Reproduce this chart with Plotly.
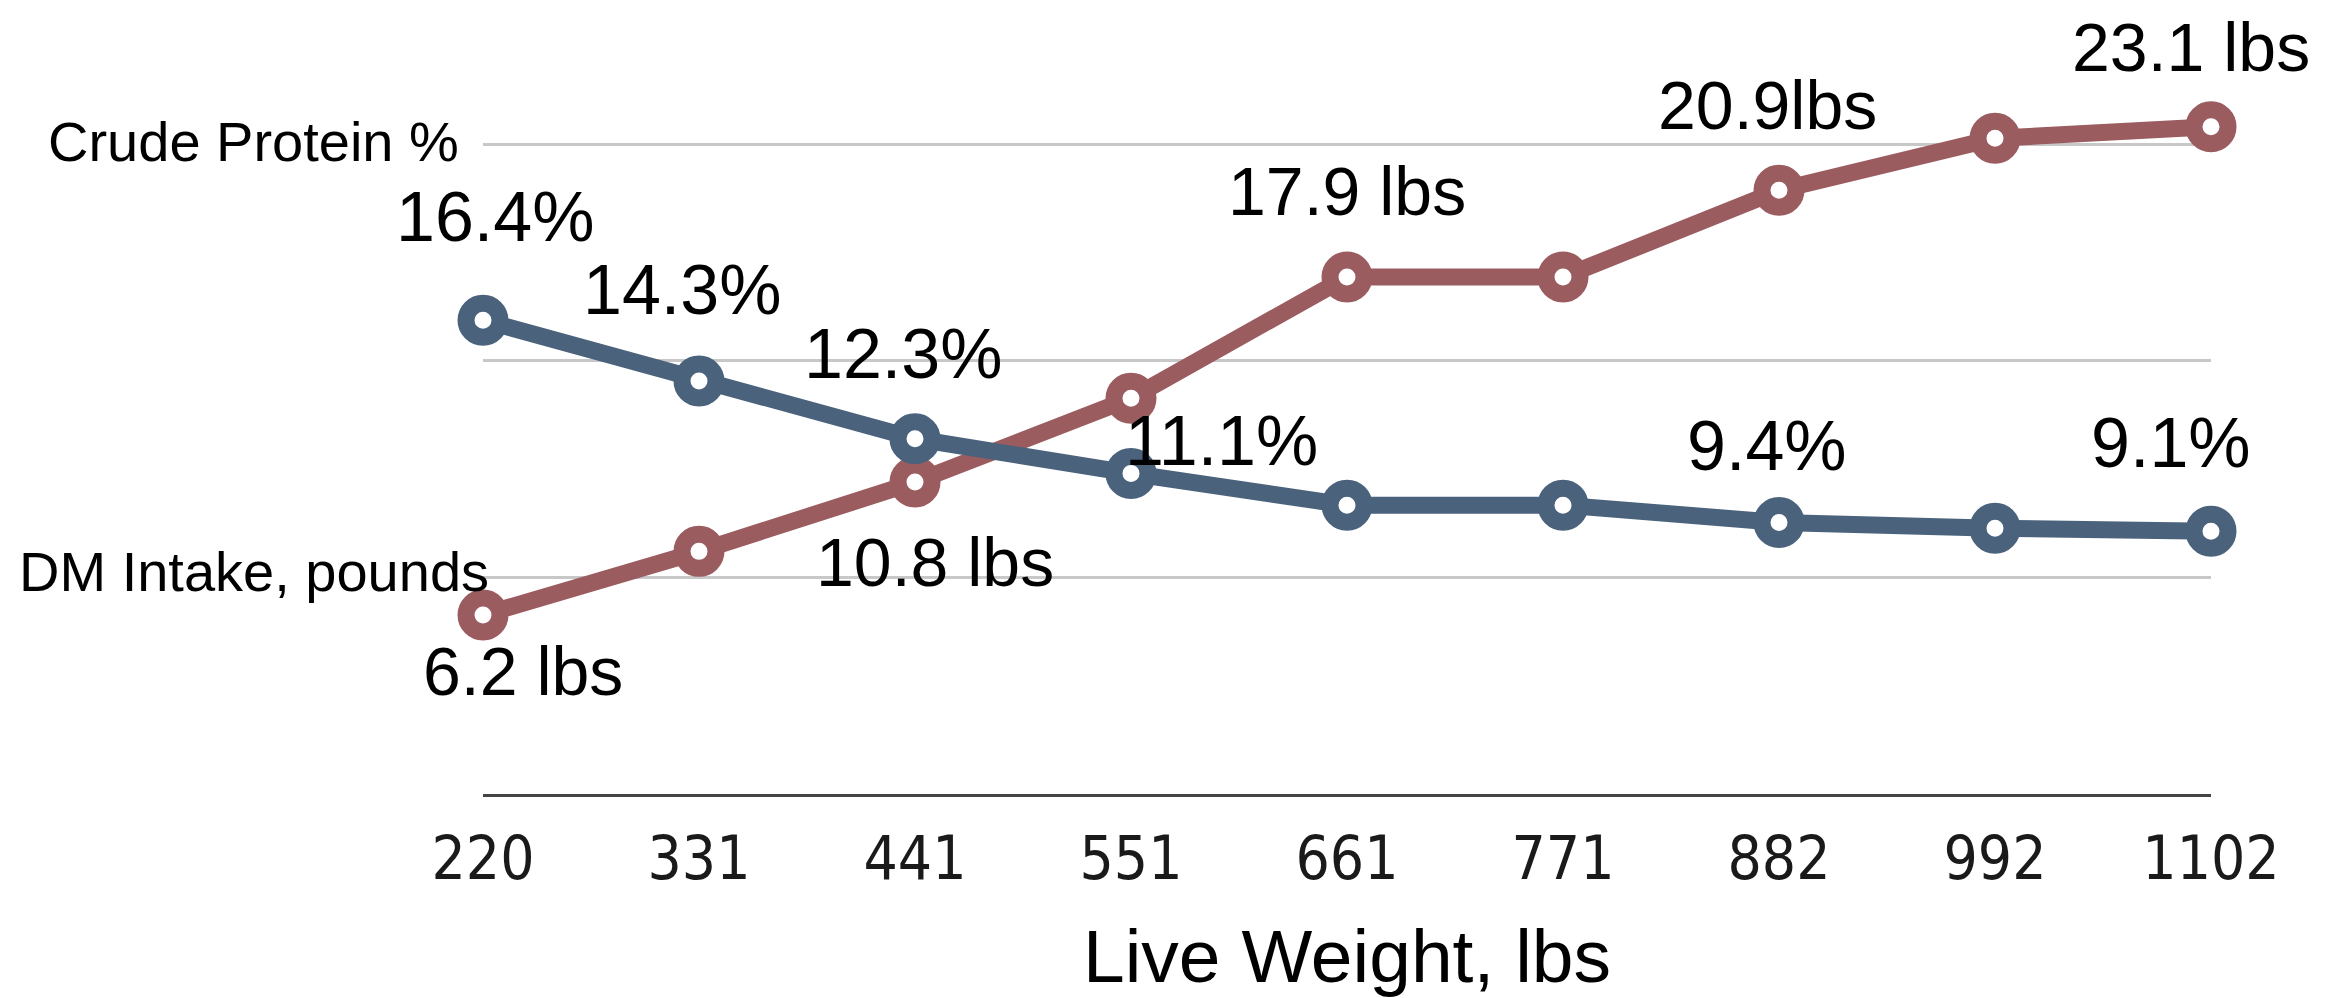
import plotly.graph_objects as go

# ---- data ----
live_weight = ["220", "331", "441", "551", "661", "771", "882", "992", "1102"]
crude_protein_pct = [16.4, 14.3, 12.3, 11.1, 10.0, 10.0, 9.4, 9.2, 9.1]
dm_intake_lbs = [6.2, 8.4, 10.8, 13.7, 17.9, 17.9, 20.9, 22.7, 23.1]

# labelled points: (index, text)
cp_labels = [(0, "16.4%"), (1, "14.3%"), (2, "12.3%"), (3, "11.1%"), (6, "9.4%"), (8, "9.1%")]
dm_labels = [(0, "6.2 lbs"), (2, "10.8 lbs"), (4, "17.9 lbs"), (6, "20.9lbs"), (8, "23.1 lbs")]

# pixel offsets for the labels (style only)
cp_offsets = {0: (12, 103), 1: (-17, 91), 2: (-12, 85), 3: (90, 32), 6: (-12, 76), 8: (-40, 88)}
dm_offsets = {0: (40, -56), 2: (20, -80), 4: (0, 86), 6: (-12, 85), 8: (-20, 80)}

BLUE = "#4a627c"
RED = "#9b5c60"
LABEL_FONT = "Liberation Sans, Arial, Helvetica, sans-serif"
TICK_FONT = "Liberation Sans Narrow, DejaVu Sans Condensed, Arial Narrow, sans-serif"

fig = go.Figure()

fig.add_trace(go.Scatter(
    x=live_weight, y=dm_intake_lbs, mode="lines+markers", name="DM Intake, pounds",
    line=dict(color=RED, width=17),
    marker=dict(symbol="circle", size=34, color="white", line=dict(color=RED, width=17)),
    cliponaxis=False, showlegend=False, hoverinfo="x+y",
))
fig.add_trace(go.Scatter(
    x=live_weight, y=crude_protein_pct, mode="lines+markers", name="Crude Protein %",
    line=dict(color=BLUE, width=17),
    marker=dict(symbol="circle", size=34, color="white", line=dict(color=BLUE, width=17)),
    cliponaxis=False, showlegend=False, hoverinfo="x+y",
))

annotations = []
for i, txt in cp_labels:
    dx, dy = cp_offsets[i]
    annotations.append(dict(x=i, y=crude_protein_pct[i], xref="x", yref="y",
                            text=txt, showarrow=False, xshift=dx, yshift=dy,
                            xanchor="center", yanchor="middle",
                            font=dict(family=LABEL_FONT, size=70, color="black")))
for i, txt in dm_labels:
    dx, dy = dm_offsets[i]
    annotations.append(dict(x=i, y=dm_intake_lbs[i], xref="x", yref="y",
                            text=txt, showarrow=False, xshift=dx, yshift=dy,
                            xanchor="center", yanchor="middle",
                            font=dict(family=LABEL_FONT, size=68, color="black")))

# series names at the left
annotations.append(dict(x=-0.0127, y=22.5, xref="paper", yref="y", text="Crude Protein %",
                        showarrow=False, xanchor="right", yanchor="middle", yshift=3,
                        font=dict(family=LABEL_FONT, size=56, color="black")))
annotations.append(dict(x=0.0046, y=7.5, xref="paper", yref="y", text="DM Intake, pounds",
                        showarrow=False, xanchor="right", yanchor="middle", yshift=6,
                        font=dict(family=LABEL_FONT, size=56, color="black")))

fig.update_layout(
    width=2329, height=998,
    margin=dict(l=475, r=126, t=35, b=212),
    paper_bgcolor="white", plot_bgcolor="white",
    annotations=annotations,
    xaxis=dict(
        type="category", range=[0, 8],
        showgrid=False, zeroline=False,
        showline=True, linecolor="#444444", linewidth=3,
        ticks="", ticklabelstandoff=10,
        tickfont=dict(family=TICK_FONT, size=60, color="#1a1a1a"),
        title=dict(text="Live Weight, lbs", standoff=38,
                   font=dict(family=LABEL_FONT, size=75, color="black")),
        automargin=False,
    ),
    yaxis=dict(
        range=[0, 26], tick0=0, dtick=7.5,
        showgrid=True, gridcolor="#c8c8c8", gridwidth=3,
        zeroline=False, showticklabels=False, ticks="",
        showline=False, automargin=False,
    ),
)

fig.write_html("out.html")
